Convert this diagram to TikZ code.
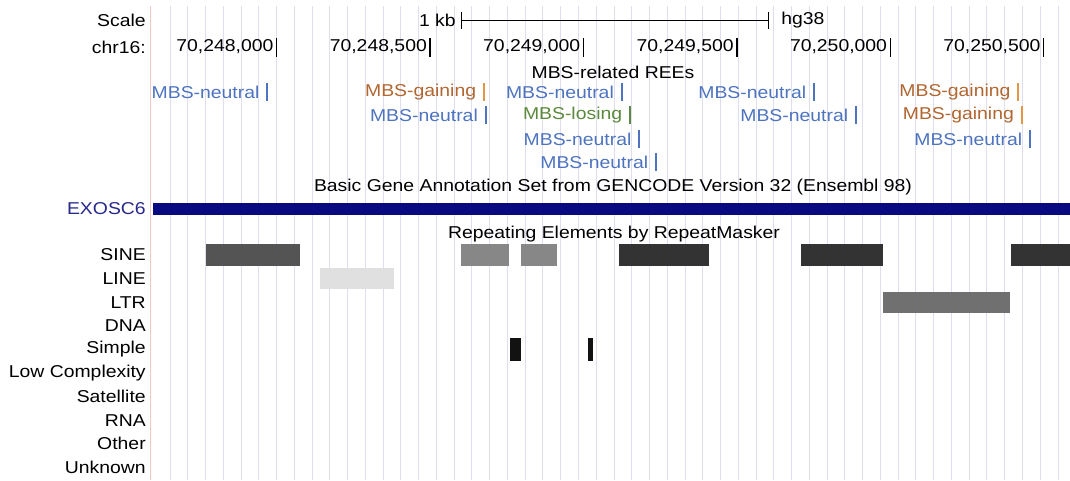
\documentclass[tikz,border=0pt]{standalone}
\usepackage{fontspec}
\setmainfont{Liberation Sans}[FakeStretch=1.13]
\usetikzlibrary{positioning}
\definecolor{gridc}{RGB}{222,222,240}
\definecolor{edgec}{RGB}{240,200,192}
\definecolor{nblue}{RGB}{78,116,191}
\definecolor{gbrown}{RGB}{178,102,48}
\definecolor{gorange}{RGB}{226,150,70}
\definecolor{lgreen}{RGB}{92,138,60}
\definecolor{genec}{RGB}{10,10,128}
\definecolor{genetxt}{RGB}{40,40,140}

\begin{document}
\begin{tikzpicture}[
    x=0.025cm, y=-0.025cm,
    lbl/.style={inner sep=0pt, font=\fontsize{12.2}{14}\selectfont},
    trk/.style={lbl, anchor=east},
    feat/.style={rectangle, inner sep=0pt, minimum width=1.4pt, minimum height=0.45cm},
    tick/.style={black, line width=1pt}
    ]
    \useasboundingbox (0,0) rectangle (1070,480);
    \fill[white] (0,0) rectangle (1070,480);

    % grid
    \foreach \k in {0,...,50}
      \draw[gridc, line width=0.7pt] (170+17.76*\k,6) -- (170+17.76*\k,480);
    \draw[edgec, line width=0.7pt] (150,6) -- (150,480);

    % scale and position
    \node[trk] (scale) at (146,20) {Scale};
    \node[trk] (chr) at (146,47) {chr16:};
    \node[trk] (kb) at (456,20) {1 kb};
    \coordinate (sbl) at (461.7,20.5);
    \coordinate (sbr) at (768.3,20.5);
    \draw[tick] (sbl) -- (sbr);
    \draw[tick] ([yshift=0.22cm]sbl) -- ([yshift=-0.22cm]sbl);
    \draw[tick] ([yshift=0.22cm]sbr) -- ([yshift=-0.22cm]sbr);
    \node[lbl, anchor=west] (hg) at (781,20) {hg38};

    \foreach \p/\t in {276.7/70{,}248{,}000, 430.1/70{,}248{,}500, 583.5/70{,}249{,}000,
                       736.9/70{,}249{,}500, 890.3/70{,}250{,}000, 1043.7/70{,}250{,}500} {
      \node[trk] at (\p-3,47) {\t};
      \draw[tick] (\p,38) -- (\p,57);
    }

    % REE track
    \node[lbl] (ree) at (613,72) {MBS-related REEs};

    \node[feat, fill=nblue] (f1) at (267.3,92) {};
    \node[lbl, text=nblue, left=4.5pt of f1] (t1) {MBS-neutral};
    \node[feat, fill=gorange] (f2) at (484,92) {};
    \node[lbl, text=gbrown, left=4.5pt of f2] (t2) {MBS-gaining};
    \node[feat, fill=nblue] (f3) at (621.7,92) {};
    \node[lbl, text=nblue, left=4.5pt of f3] (t3) {MBS-neutral};
    \node[feat, fill=nblue] (f4) at (814,92) {};
    \node[lbl, text=nblue, left=4.5pt of f4] (t4) {MBS-neutral};
    \node[feat, fill=gorange] (f5) at (1018.3,92) {};
    \node[lbl, text=gbrown, left=4.5pt of f5] (t5) {MBS-gaining};

    \node[feat, fill=nblue] (f6) at (485.7,115) {};
    \node[lbl, text=nblue, left=4.5pt of f6] (t6) {MBS-neutral};
    \node[feat, fill=lgreen] (f7) at (630,115) {};
    \node[lbl, text=lgreen, left=4.5pt of f7] (t7) {MBS-losing};
    \node[feat, fill=nblue] (f8) at (856,115) {};
    \node[lbl, text=nblue, left=4.5pt of f8] (t8) {MBS-neutral};
    \node[feat, fill=gorange] (f9) at (1021.7,115) {};
    \node[lbl, text=gbrown, left=4.5pt of f9] (t9) {MBS-gaining};

    \node[feat, fill=nblue] (f10) at (639.3,139) {};
    \node[lbl, text=nblue, left=4.5pt of f10] (t10) {MBS-neutral};
    \node[feat, fill=nblue] (f11) at (1030,139) {};
    \node[lbl, text=nblue, left=4.5pt of f11] (t11) {MBS-neutral};

    \node[feat, fill=nblue] (f12) at (656,162) {};
    \node[lbl, text=nblue, left=4.5pt of f12] (t12) {MBS-neutral};

    % gene track
    \node[lbl] (gencode) at (613,187) {Basic Gene Annotation Set from GENCODE Version 32 (Ensembl 98)};
    \node[trk, text=genetxt] (exosc) at (146,209) {EXOSC6};
    \fill[genec] (153,202.5) rectangle (1070,215);

    % repeat track
    \node[lbl] (rmsk) at (614,234) {Repeating Elements by RepeatMasker};
    \foreach \t [count=\i from 0] in {SINE,LINE,LTR,DNA,Simple,Low Complexity,Satellite,RNA,Other,Unknown}
      \node[trk] (r\i) at (146,255+23.6*\i) {\t};

    \fill[black!67] (206,244) rectangle (299.7,266);
    \fill[black!47] (461,244) rectangle (509.3,266);
    \fill[black!47] (520.7,244) rectangle (556.7,266);
    \fill[black!80] (619.3,244) rectangle (709.3,266);
    \fill[black!80] (800.7,244) rectangle (882.7,266);
    \fill[black!80] (1010.7,244) rectangle (1070,266);
    \fill[black!12] (320,267.7) rectangle (394,289.3);
    \fill[black!56] (882.7,291.5) rectangle (1010,313.3);
    \fill[black!93] (510,338.3) rectangle (520.7,361);
    \fill[black!93] (588.3,338.3) rectangle (592.7,361);

  \end{tikzpicture}
\end{document}
